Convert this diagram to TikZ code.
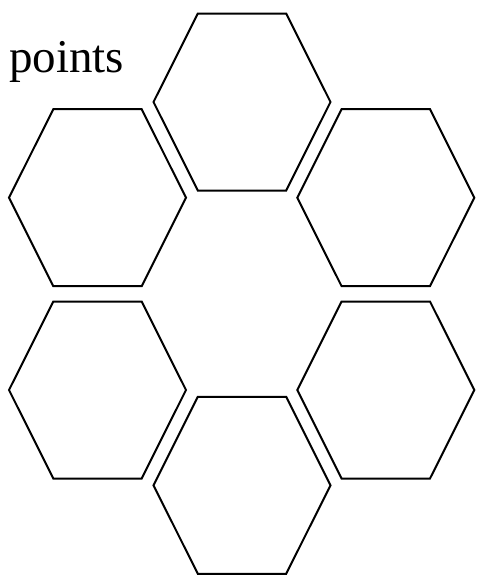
\documentclass[tikz,border=0pt]{standalone}
\usepackage{fontspec}
\setmainfont{Liberation Serif}
\tikzset{
  hexline/.style={draw=black, line width=2pt, line join=miter},
  hexa/.pic={\draw[hexline] (-88.5,0) -- (-44.2,-88.5) -- (44.2,-88.5) -- (88.5,0) -- (44.2,88.5) -- (-44.2,88.5) -- cycle;},
  lbl/.style={anchor=base west, inner sep=0pt, font=\fontsize{47}{52}\selectfont}
}
\begin{document}
\begin{tikzpicture}[x=1pt, y=-1pt]
\useasboundingbox (0,0) rectangle (483,582);
\node[lbl] (title) at (9,72) {points};
\coordinate (top) at (242,102);
\coordinate (ul) at (97.5,197.7);
\coordinate (ur) at (385.8,197.7);
\coordinate (ll) at (97.5,390);
\coordinate (lr) at (385.8,390);
\coordinate (bot) at (242,485.3);
\foreach \c in {top,ul,ur,ll,lr,bot} {
  \pic at (\c) {hexa};
}
\end{tikzpicture}
\end{document}
